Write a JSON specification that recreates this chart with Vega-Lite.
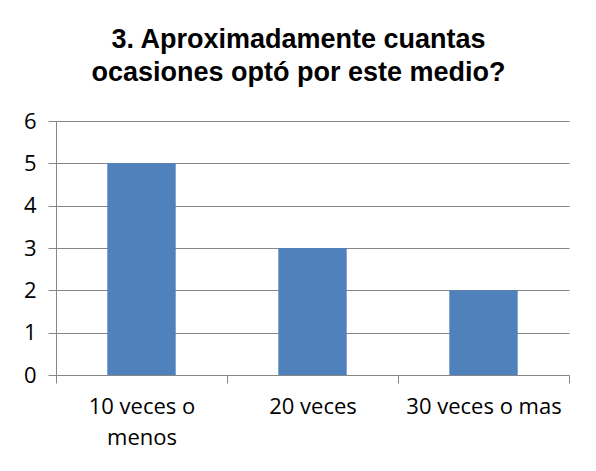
{
  "$schema": "https://vega.github.io/schema/vega-lite/v6.json",
  "autosize": {"type": "none"},
  "width": 513,
  "height": 254,
  "padding": {"left": 56, "top": 121, "right": 27, "bottom": 96},
  "background": "white",
  "title": {
    "text": ["3. Aproximadamente cuantas", "ocasiones optó por este medio?"],
    "font": "Liberation Sans",
    "fontSize": 27,
    "fontWeight": "bold",
    "color": "#000000",
    "anchor": "middle",
    "dx": -14,
    "lineHeight": 33,
    "offset": 23
  },
  "data": {
    "values": [
      {"categoria": "10 veces o menos", "valor": 5},
      {"categoria": "20 veces", "valor": 3},
      {"categoria": "30 veces o mas", "valor": 2}
    ]
  },
  "mark": {"type": "bar", "color": "#4F81BD", "width": {"band": 0.4}},
  "encoding": {
    "x": {
      "field": "categoria",
      "type": "nominal",
      "sort": null,
      "title": null,
      "scale": {"paddingInner": 0, "paddingOuter": 0},
      "axis": {
        "labelAngle": 0,
        "labelFont": "Open Sans",
        "labelFontSize": 22,
        "labelColor": "#000000",
        "labelPadding": 13,
        "labelLineHeight": 31,
        "labelExpr": "datum.label == '10 veces o menos' ? ['10 veces o', 'menos'] : datum.label",
        "tickBand": "extent",
        "tickSize": 8,
        "tickColor": "#868686",
        "domainColor": "#868686",
        "grid": false
      }
    },
    "y": {
      "field": "valor",
      "type": "quantitative",
      "title": null,
      "scale": {"domain": [0, 6]},
      "axis": {
        "values": [0, 1, 2, 3, 4, 5, 6],
        "labelFont": "Open Sans",
        "labelFontSize": 22,
        "labelColor": "#000000",
        "labelPadding": 12,
        "tickSize": 8,
        "tickColor": "#868686",
        "domainColor": "#868686",
        "gridColor": "#868686",
        "grid": true
      }
    }
  },
  "config": {"view": {"stroke": null}}
}
